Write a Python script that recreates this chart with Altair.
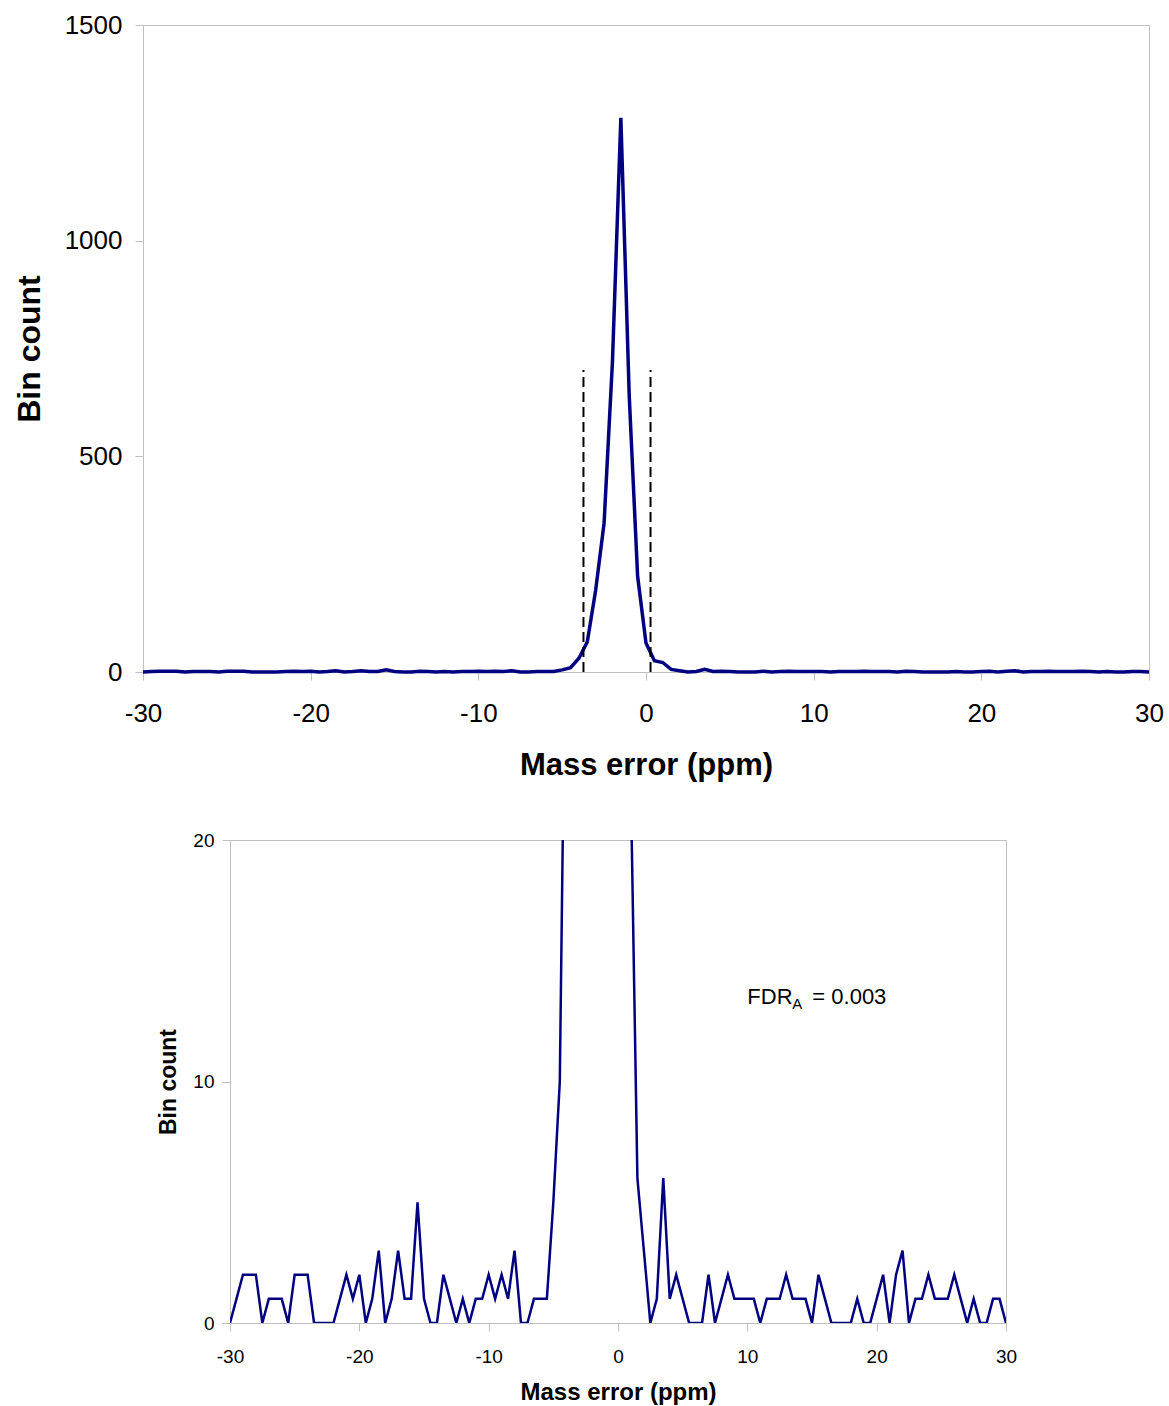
import altair as alt
import pandas as pd

# Bin centres (ppm) and counts of the mass-error histogram
mass_error = [
    -30.0, -29.5, -29.0, -28.5, -28.0, -27.5, -27.0, -26.5, -26.0, -25.5,
    -25.0, -24.5, -24.0, -23.5, -23.0, -22.5, -22.0, -21.5, -21.0, -20.5,
    -20.0, -19.5, -19.0, -18.5, -18.0, -17.5, -17.0, -16.5, -16.0, -15.5,
    -15.0, -14.5, -14.0, -13.5, -13.0, -12.5, -12.0, -11.5, -11.0, -10.5,
    -10.0, -9.5, -9.0, -8.5, -8.0, -7.5, -7.0, -6.5, -6.0, -5.5,
    -5.0, -4.5, -4.0, -3.5, -3.0, -2.5, -2.0, -1.5, -1.0, -0.5,
    0.0, 0.5, 1.0, 1.5, 2.0, 2.5, 3.0, 3.5, 4.0, 4.5,
    5.0, 5.5, 6.0, 6.5, 7.0, 7.5, 8.0, 8.5, 9.0, 9.5,
    10.0, 10.5, 11.0, 11.5, 12.0, 12.5, 13.0, 13.5, 14.0, 14.5,
    15.0, 15.5, 16.0, 16.5, 17.0, 17.5, 18.0, 18.5, 19.0, 19.5,
    20.0, 20.5, 21.0, 21.5, 22.0, 22.5, 23.0, 23.5, 24.0, 24.5,
    25.0, 25.5, 26.0, 26.5, 27.0, 27.5, 28.0, 28.5, 29.0, 29.5,
    30.0,
]
bin_count = [
    0, 1, 2, 2, 2, 0, 1, 1, 1, 0,
    2, 2, 2, 0, 0, 0, 0, 1, 2, 1,
    2, 0, 1, 3, 0, 1, 3, 1, 1, 5,
    1, 0, 0, 2, 1, 0, 1, 0, 1, 1,
    2, 1, 2, 1, 3, 0, 0, 1, 1, 1,
    5, 10, 32, 70, 190, 345, 720, 1285, 640, 222,
    67, 26, 22, 6, 3, 0, 1, 6, 1, 2,
    1, 0, 0, 0, 2, 0, 1, 2, 1, 1,
    1, 1, 0, 1, 1, 1, 2, 1, 1, 1,
    0, 2, 1, 0, 0, 0, 0, 1, 0, 0,
    1, 2, 0, 2, 3, 0, 1, 1, 2, 1,
    1, 1, 2, 1, 0, 1, 0, 0, 1, 1,
    0,
]

# Acceptance window limits (ppm) and height of the dashed markers
window_limits = [-3.73, 0.27]
window_top = 700

x_ticks = [-30, -20, -10, 0, 10, 20, 30]
y_ticks_full = [0, 500, 1000, 1500]
y_ticks_zoom = [0, 10, 20]

FONT = "Liberation Sans"
GRAY = "#c0c0c0"
NAVY = "#000080"

hist = pd.DataFrame({"err": mass_error, "count": bin_count})
window = pd.DataFrame({"err": window_limits, "lo": [0] * len(window_limits),
                       "hi": [window_top] * len(window_limits)})


def axis(values, title, label_size, title_size, label_pad, title_pad):
    # plain integer labels with an ASCII hyphen for negatives
    return alt.Axis(values=values, title=title, grid=False,
                    labelExpr="datum.value + ''",
                    domainColor=GRAY, tickColor=GRAY, tickSize=8,
                    labelFont=FONT, titleFont=FONT, labelFontSize=label_size,
                    titleFontSize=title_size, titleFontWeight="bold",
                    labelColor="black", titleColor="black",
                    labelPadding=label_pad, titlePadding=title_pad,
                    labelFlush=False, labelOverlap=False)


# Full-range histogram with the acceptance window
top_x = alt.X("err:Q", scale=alt.Scale(domain=[-30, 30], nice=False, zero=False),
              axis=axis(x_ticks, "Mass error (ppm)", 26, 31, 20, 24))
top_y = alt.Y("count:Q", scale=alt.Scale(domain=[0, 1500], nice=False),
              axis=axis(y_ticks_full, "Bin count", 26, 32, 13, 18))

top_line = alt.Chart(hist).mark_line(color=NAVY, strokeWidth=3.5).encode(x=top_x, y=top_y)
top_rules = alt.Chart(window).mark_rule(color="black", strokeWidth=2, strokeDash=[10, 5]).encode(
    x="err:Q", y="lo:Q", y2="hi:Q")
top = alt.layer(top_line, top_rules).properties(width=1006, height=647)

# Zoom on the low counts
bot_x = alt.X("err:Q", scale=alt.Scale(domain=[-30, 30], nice=False, zero=False),
              axis=axis(x_ticks, "Mass error (ppm)", 19, 24, 16, 14))
bot_y = alt.Y("count:Q", scale=alt.Scale(domain=[0, 20], nice=False),
              axis=axis(y_ticks_zoom, "Bin count", 19, 23, 8, 12))

bot_line = alt.Chart(hist).mark_line(color=NAVY, strokeWidth=2.5, clip=True).encode(x=bot_x, y=bot_y)

note = pd.DataFrame({"err": [10], "count": [13.5]})
fdr_main = alt.Chart(note).mark_text(text="FDR", font=FONT, fontSize=22, align="left",
                                     baseline="middle", color="black").encode(x="err:Q", y="count:Q")
fdr_sub = alt.Chart(note).mark_text(text="A", font=FONT, fontSize=15, align="left",
                                    baseline="middle", color="black", dx=45, dy=7).encode(x="err:Q", y="count:Q")
fdr_val = alt.Chart(note).mark_text(text="= 0.003", font=FONT, fontSize=22, align="left",
                                    baseline="middle", color="black", dx=65).encode(x="err:Q", y="count:Q")

bottom = alt.layer(bot_line, fdr_main, fdr_sub, fdr_val).properties(width=776, height=483)

spacer = alt.Chart(pd.DataFrame({"v": [0]})).mark_point(opacity=0).encode(
    x=alt.X("v:Q", axis=None), y=alt.Y("v:Q", axis=None)
).properties(width=87, height=483, view=alt.ViewBackground(stroke="transparent"))

bottom_row = alt.hconcat(spacer, bottom, spacing=0, bounds="flush")

chart = alt.vconcat(top, bottom_row, spacing=168, bounds="flush").properties(
    padding={"left": 12, "top": 11, "right": 5, "bottom": 5},
    background="white",
).configure_view(stroke=GRAY, strokeWidth=1)

chart.save("out.html", embed_options={"renderer": "svg", "actions": False})
